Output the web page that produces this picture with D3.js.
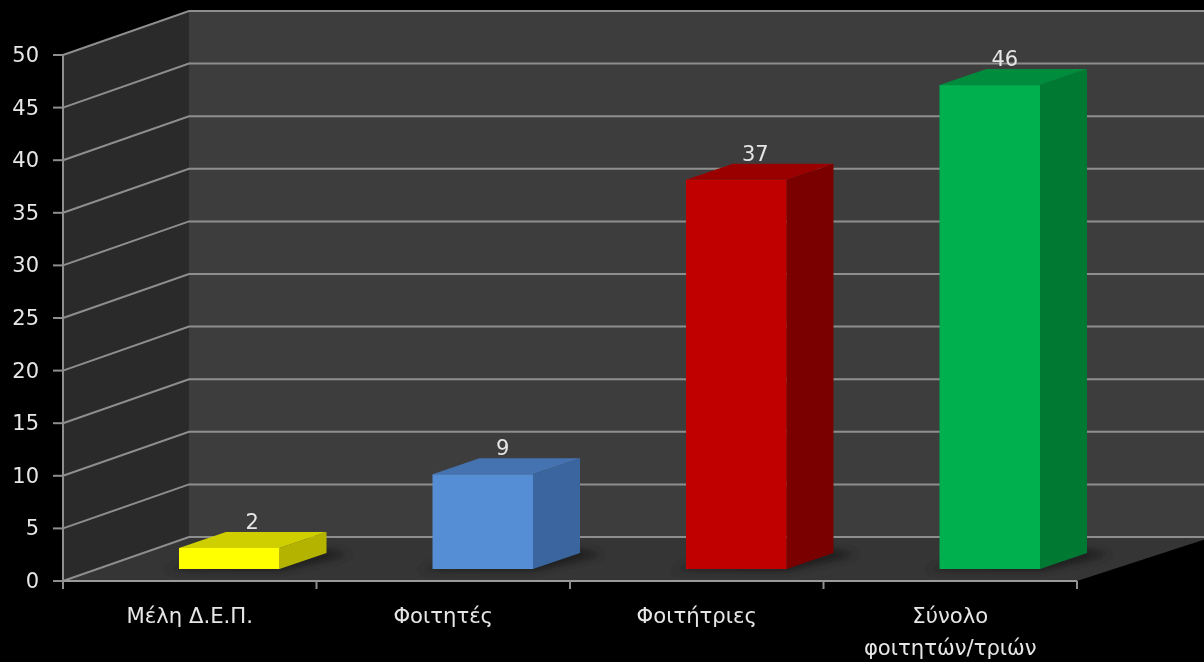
<!DOCTYPE html>
<html><head><meta charset="utf-8">
<script src="https://cdnjs.cloudflare.com/ajax/libs/d3/7.8.5/d3.min.js"></script>
<style>html,body{margin:0;padding:0;background:#000;overflow:hidden}svg{display:block}
text{font-family:"DejaVu Sans",sans-serif;fill:#e6e6e6}</style></head>
<body><svg id="c" width="1204" height="662"></svg>
<script>
const categories=["Μέλη Δ.Ε.Π.","Φοιτητές","Φοιτήτριες","Σύνολο|φοιτητών/τριών"];
const values=[2,9,37,46];
const frontColors=["#ffff00","#558ed5","#c00000","#00b050"];
const topColors=["#cfcf00","#4472b0","#9a0000","#008c3c"];
const sideColors=["#b4b400","#3a659e","#7a0000","#007a33"];
const yTicks=[0,5,10,15,20,25,30,35,40,45,50];
const labelShift=[23,20,19,15];
const W=1204,H=662,dx=126,dy=-44,bdx=47,bdy=-16,gapX=39.5,gapY=-12;
const svg=d3.select("#c");
const defs=svg.append("defs");
defs.append("filter").attr("id","soft").append("feGaussianBlur").attr("stdDeviation",0.7);
defs.append("filter").attr("id","sh").attr("x","-30%").attr("y","-100%").attr("width","160%").attr("height","300%").append("feGaussianBlur").attr("stdDeviation",5);
const x=d3.scaleBand().domain(categories).range([63,1077]);
const y=d3.scaleLinear().domain([0,50]).range([581,55]);
const barW=100.5;
const line=d3.line();
const root=svg.append("g").attr("filter","url(#soft)");
const x0=x.range()[0],x1=x.range()[1],y0=y(0),y50=y(50);
root.append("rect").attr("x",x0+dx).attr("y",y50+dy).attr("width",W-x0-dx+4).attr("height",y0-y50).attr("fill","#3e3e3e");
root.append("path").attr("d",line([[x0,y0],[x0+dx,y0+dy],[x0+dx,y50+dy],[x0,y50]])+"Z").attr("fill","#292929");
root.append("path").attr("d",line([[x0,y0],[x0+dx,y0+dy],[W+4,y0+dy],[W+4,y0+dy+3],[x1+dx,y0+dy+3],[x1,y0]])+"Z").attr("fill","#353535");
const gridColor="#8e8e8e";
root.selectAll(".gb").data(yTicks).join("path").attr("fill","none").attr("stroke",gridColor).attr("stroke-width",2)
  .attr("d",t=>line([[x0,y(t)],[x0+dx,y(t)+dy],[W+4,y(t)+dy]]));
root.append("line").attr("x1",x0).attr("x2",x0).attr("y1",y50).attr("y2",y0+8).attr("stroke",gridColor).attr("stroke-width",2);
root.append("line").attr("x1",x0).attr("x2",x1).attr("y1",y0).attr("y2",y0).attr("stroke","#9a9a9a").attr("stroke-width",2);
root.selectAll(".yt").data(yTicks).join("line").attr("x1",x0-10).attr("x2",x0).attr("y1",t=>y(t)).attr("y2",t=>y(t)).attr("stroke",gridColor).attr("stroke-width",2);
const xt=[...categories.map(c=>x(c)),x1];
root.selectAll(".xt").data(xt).join("line").attr("x1",d=>d).attr("x2",d=>d).attr("y1",y0).attr("y2",y0+8).attr("stroke",gridColor).attr("stroke-width",2);
root.selectAll(".yl").data(yTicks).join("text").attr("x",39).attr("y",t=>y(t)+7).attr("text-anchor","end").attr("font-size",21).text(t=>t);
const bx=c=>x(c)+x.bandwidth()/2+gapX-barW/2;
const base=y(0)+gapY;
const barTop=v=>y(v)+gapY;
categories.forEach((c,i)=>{
  const v=values[i],l=bx(c),r=l+barW,t=barTop(v);
  root.append("path").attr("filter","url(#sh)").attr("fill","#000").attr("opacity",0.5)
    .attr("d",line([[l-15,base+1],[r,base+1],[r+bdx+25,base+bdy+1],[r+bdx,base+bdy-3],[l,base-3]])+"Z");
  root.append("path").attr("fill",sideColors[i]).attr("d",line([[r,t],[r+bdx,t+bdy],[r+bdx,base+bdy],[r,base]])+"Z");
  root.append("path").attr("fill",topColors[i]).attr("d",line([[l,t],[l+bdx,t+bdy],[r+bdx,t+bdy],[r,t]])+"Z");
  root.append("rect").attr("x",l).attr("y",t).attr("width",barW).attr("height",base-t).attr("fill",frontColors[i]);
  root.append("text").attr("x",l+barW/2+labelShift[i]).attr("y",t-19).attr("text-anchor","middle").attr("font-size",21).text(v);
});
categories.forEach(c=>{
  const cx=x(c)+x.bandwidth()/2;
  const parts=c.split("|");
  root.selectAll(null).data(parts).join("text").attr("x",cx).attr("y",(d,i)=>623+i*32).attr("text-anchor","middle").attr("font-size",21.2).text(d=>d);
});
</script></body></html>
